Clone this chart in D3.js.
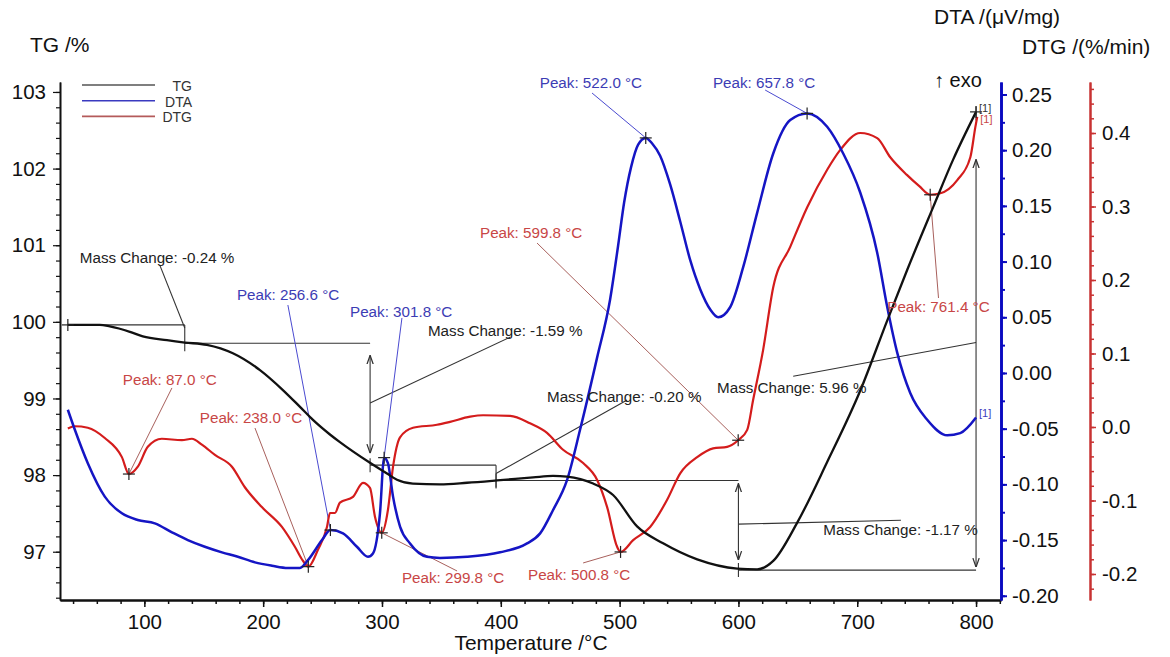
<!DOCTYPE html>
<html>
<head>
<meta charset="utf-8">
<script src="https://cdn.jsdelivr.net/npm/d3@7"></script>
<style>
  html, body { margin: 0; padding: 0; background: #fff; }
  svg { display: block; }
</style>
</head>
<body>
<svg id="chart" width="1170" height="657"></svg>
<script>
// ---------- tick labels ----------
const tempTicks = [100, 200, 300, 400, 500, 600, 700, 800];
const tgTicks = [97, 98, 99, 100, 101, 102, 103];
const dtaTicks = [-0.20, -0.15, -0.10, -0.05, 0.00, 0.05, 0.10, 0.15, 0.20, 0.25];
const dtgTicks = [-0.2, -0.1, 0.0, 0.1, 0.2, 0.3, 0.4];

// ---------- TG curve (%) ----------
const tgTemp = [35.6, 45.7, 62.5, 70.9, 87.8, 98.7, 119.0, 134.1, 152.6, 174.5, 197.3, 216.6, 231.0, 241.9,
  256.2, 264.6, 289.9, 304.2, 312.6, 326.0, 348.8, 371.6, 396.8, 427.2, 444.0, 455.8, 477.7, 494.5,
  514.7, 536.6, 565.3, 599.0, 615.8, 629.3, 649.5, 674.7, 702.5, 725.3, 742.1, 764.0, 780.8, 800.0];
const tgValue = [99.96, 99.96, 99.96, 99.94, 99.87, 99.81, 99.76, 99.73, 99.70, 99.59, 99.37, 99.11, 98.89, 98.72,
  98.53, 98.43, 98.16, 98.02, 97.94, 97.89, 97.88, 97.90, 97.93, 97.97, 97.99, 97.98, 97.89, 97.74,
  97.33, 97.11, 96.90, 96.78, 96.77, 96.88, 97.38, 98.17, 99.10, 100.02, 100.68, 101.50, 102.12, 102.74];

// ---------- DTA curve (µV/mg) ----------
const dtaTemp = [35.6, 41.5, 52.4, 66.7, 81.1, 94.4, 108.8, 123.2, 136.6, 150.9, 165.3, 178.7, 193.1, 207.4,
  220.8, 231.0, 237.7, 249.5, 256.6, 267.2, 278.9, 288.2, 292.4, 298.3, 301.8, 305.0, 309.3, 315.2, 323.6,
  337.9, 348.8, 371.6, 399.4, 422.1, 433.1, 444.0, 455.8, 466.7, 481.1, 492.0, 498.7, 503.8, 509.7, 515.6,
  522.0, 527.4, 534.1, 542.6, 551.0, 559.5, 567.9, 576.3, 583.0, 593.0, 604.0, 615.8, 629.3, 643.6, 657.8, 674.7,
  688.2, 702.5, 716.8, 725.3, 733.7, 744.6, 758.9, 775.8, 786.7, 800.0];
const dtaValue = [-0.033, -0.051, -0.081, -0.111, -0.126, -0.132, -0.135, -0.143, -0.150, -0.156, -0.161, -0.165, -0.170, -0.173,
  -0.175, -0.175, -0.168, -0.150, -0.141, -0.144, -0.156, -0.165, -0.162, -0.126, -0.076, -0.081, -0.111, -0.138, -0.153,
  -0.165, -0.166, -0.165, -0.161, -0.153, -0.144, -0.123, -0.096, -0.051, 0.014, 0.066, 0.114, 0.153, 0.185, 0.205,
  0.211, 0.206, 0.195, 0.169, 0.136, 0.101, 0.075, 0.057, 0.050, 0.059, 0.095, 0.144, 0.197, 0.227, 0.233, 0.221,
  0.197, 0.162, 0.108, 0.059, 0.018, -0.018, -0.042, -0.056, -0.054, -0.040];

// ---------- DTG curve (%/min) ----------
const dtgTemp = [35.6, 41.5, 52.4, 66.7, 81.1, 87.0, 94.5, 102.9, 114.7, 131.6, 140.0, 148.4, 159.4, 173.7,
  184.6, 198.9, 215.8, 226.7, 233.5, 238.0, 246.1, 253.7, 256.2, 260.4, 264.6, 275.6, 284.0, 289.9, 294.1,
  299.8, 305.0, 309.3, 315.2, 326.1, 346.3, 357.3, 374.2, 385.1, 407.8, 424.6, 438.9, 452.4, 469.3, 481.1,
  489.5, 497.9, 500.8, 511.4, 525.7, 540.0, 551.0, 565.3, 578.7, 590.5, 599.8, 607.4, 612.4, 620.8, 629.3,
  643.6, 657.9, 674.7, 685.7, 702.5, 716.8, 727.8, 741.8, 752.0, 761.4, 770.0, 784.2, 795.2, 799.4, 801.0];
const dtgValue = [-0.002, 0.001, -0.001, -0.015, -0.041, -0.064, -0.054, -0.027, -0.016, -0.018, -0.016, -0.024, -0.038, -0.054,
  -0.082, -0.109, -0.136, -0.163, -0.182, -0.190, -0.167, -0.136, -0.117, -0.117, -0.103, -0.095, -0.076, -0.083, -0.122,
  -0.144, -0.113, -0.054, -0.014, -0.001, 0.003, 0.007, 0.014, 0.016, 0.015, 0.005, -0.008, -0.031, -0.049, -0.072,
  -0.109, -0.163, -0.170, -0.154, -0.136, -0.099, -0.063, -0.041, -0.029, -0.027, -0.018, -0.004, 0.037, 0.105, 0.190,
  0.245, 0.299, 0.350, 0.377, 0.400, 0.393, 0.367, 0.343, 0.328, 0.316, 0.318, 0.336, 0.367, 0.408, 0.422];

// ---------- evaluated peaks ----------
const dtaPeakTemps = [256.6, 301.8, 522.0, 657.8];
const dtgPeakTemps = [87.0, 238.0, 299.8, 500.8, 599.8, 761.4];

// ---------- mass change steps (TG levels and step temperatures) ----------
const massLevels = [99.96, 99.72, 98.13, 97.93, 96.76, 102.72];
const massStepTemps = [35.6, 134, 290, 396, 600, 800];
const massChanges = [-0.24, -1.59, -0.20, -1.17, 5.96];

// ---------- annotation placement (temperature, axis value) ----------
const dtaPeakLabelAt = [[177.9, 0.0655], [273.1, 0.0503], [432.8, 0.2558], [578.5, 0.2558]];
const dtaPeakLeaderFrom = [[220.8, 0.061], [316.8, 0.0494], [476.8, 0.2513], [622.5, 0.254]];
const dtgPeakLabelAt = [[81.9, 0.0571], [146.7, 0.0054], [316.8, -0.2122], [422.9, -0.2082], [382.5, 0.2571], [725.3, 0.1565]];
const dtgPeakLeaderFrom = [[123.2, 0.0531], [193.1, -0.0014], [363.2, -0.1959], [469.3, -0.185], [430.5, 0.2503], [768.4, 0.1755]];
const massLabelAt = [[45.7, 100.767], [338.7, 99.813], [438.9, 98.951], [671.4, 97.215], [582.0, 99.069]];
const massLeader = [
  [[134, 99.92], [113, 100.74]],
  [[290, 98.94], [407.8, 99.80]],
  [[396, 98.02], [506.3, 98.98]],
  [[600, 97.36], [736.8, 97.41]],
  [[800, 99.73], [646.1, 99.29]]
];
const massConnector = ["bar", "arrow", "bar", "arrow", "arrow"];
const arrowGaps = [[0, 0], [12, 12], [0, 0], [10, 3], [3, 46]];

// ---------- drawing ----------
const FONT = "Arial, 'Liberation Sans', sans-serif";
const C_TG = "#111111", C_DTA = "#1515c4", C_DTG = "#d41c1c";
const C_DTA_TXT = "#3c3cb4", C_DTG_TXT = "#c84646";
const C_DTA_LEAD = "#4a4ad0", C_DTG_LEAD = "#a8605c";
const TICK_FONT = 20.5, TITLE_FONT = 21, NOTE_FONT = 15.2;

const svg = d3.select("#chart").attr("font-family", FONT);
svg.append("rect").attr("width", 1170).attr("height", 657).attr("fill", "#fff");

const plot = { left: 60, right: 1001, top: 82, bottom: 600 };
const x = d3.scaleLinear().domain([29, 821]).range([plot.left, plot.right]);
const yTG = d3.scaleLinear().domain([96.37, 103.13]).range([plot.bottom, plot.top]);
const yDTA = d3.scaleLinear().domain([-0.2038, 0.2612]).range([plot.bottom, plot.top]);
const yDTG = d3.scaleLinear().domain([-0.2354, 0.4694]).range([plot.bottom, plot.top]);

const zip = (a, b) => a.map((t, i) => [t, b[i]]);
const tgData = zip(tgTemp, tgValue);
const dtaData = zip(dtaTemp, dtaValue);
const dtgData = zip(dtgTemp, dtgValue);

function interp(ts, vs, t) {
  const i = d3.bisectLeft(ts, t);
  if (i <= 0) return vs[0];
  if (i >= ts.length) return vs[vs.length - 1];
  const t0 = ts[i - 1], t1 = ts[i];
  return vs[i - 1] + (vs[i] - vs[i - 1]) * (t - t0) / (t1 - t0);
}

const defs = svg.append("defs");
defs.append("marker")
  .attr("id", "arrowHead").attr("viewBox", "0 0 10 10")
  .attr("refX", 10).attr("refY", 5)
  .attr("markerWidth", 9).attr("markerHeight", 9)
  .attr("markerUnits", "userSpaceOnUse")
  .attr("orient", "auto-start-reverse")
  .append("path").attr("d", "M0,1.5 L10,5 L0,8.5")
  .attr("fill", "none").attr("stroke", "#333").attr("stroke-width", 1.4);

// ----- axes -----
function styleAxis(g, color, width, size) {
  g.select(".domain").attr("stroke", color).attr("stroke-width", width);
  g.selectAll(".tick line").attr("stroke", color).attr("stroke-width", Math.max(1, width * 0.75));
  g.selectAll("text").attr("fill", "#111").attr("font-size", size).attr("font-family", FONT);
}

// left TG axis
svg.append("g").attr("transform", `translate(${plot.left},0)`)
  .call(d3.axisLeft(yTG).tickValues(d3.range(96.4, 103.05, 0.2)).tickSize(4).tickFormat("").tickSizeOuter(0))
  .call(g => styleAxis(g, "#111", 1.6, TICK_FONT));
svg.append("g").attr("transform", `translate(${plot.left},0)`)
  .call(d3.axisLeft(yTG).tickValues(tgTicks).tickSize(7).tickPadding(7).tickFormat(d3.format("d")).tickSizeOuter(0))
  .call(g => styleAxis(g, "#111", 1.6, TICK_FONT));

// bottom temperature axis
svg.append("g").attr("transform", `translate(0,${plot.bottom})`)
  .call(d3.axisBottom(x).tickValues(d3.range(40, 821, 20)).tickSize(4).tickFormat("").tickSizeOuter(0))
  .call(g => styleAxis(g, "#111", 2, TICK_FONT));
svg.append("g").attr("transform", `translate(0,${plot.bottom})`)
  .call(d3.axisBottom(x).tickValues(tempTicks).tickSize(7).tickPadding(7).tickFormat(d3.format("d")).tickSizeOuter(0))
  .call(g => styleAxis(g, "#111", 2, TICK_FONT));

// right DTA axis
const fmt2 = d => (Math.abs(d) < 1e-9 ? 0 : d).toFixed(2);
const fmt1 = d => (Math.abs(d) < 1e-9 ? 0 : d).toFixed(1);
svg.append("g").attr("transform", `translate(${plot.right},0)`)
  .call(d3.axisRight(yDTA).tickValues(d3.range(-0.2, 0.2601, 0.025)).tickSize(4).tickFormat("").tickSizeOuter(0))
  .call(g => styleAxis(g, "#0a0ac0", 2.6, TICK_FONT));
svg.append("g").attr("transform", `translate(${plot.right},0)`)
  .call(d3.axisRight(yDTA).tickValues(dtaTicks).tickSize(6).tickPadding(5).tickFormat(fmt2).tickSizeOuter(0))
  .call(g => styleAxis(g, "#0a0ac0", 2.6, TICK_FONT));

// right DTG axis
const dtgAxisX = 1090;
svg.append("g").attr("transform", `translate(${dtgAxisX},0)`)
  .call(d3.axisRight(yDTG).tickValues(d3.range(-0.22, 0.461, 0.02)).tickSize(4).tickFormat("").tickSizeOuter(0))
  .call(g => styleAxis(g, "#c83232", 2, TICK_FONT));
svg.append("g").attr("transform", `translate(${dtgAxisX},0)`)
  .call(d3.axisRight(yDTG).tickValues(dtgTicks).tickSize(6).tickPadding(6).tickFormat(fmt1).tickSizeOuter(0))
  .call(g => styleAxis(g, "#c83232", 2, TICK_FONT));

// axis titles
svg.append("text").attr("x", 30).attr("y", 52).attr("font-size", TITLE_FONT).attr("fill", "#111").text("TG /%");
svg.append("text").attr("x", 934).attr("y", 24).attr("font-size", TITLE_FONT).attr("fill", "#111").text("DTA /(μV/mg)");
svg.append("text").attr("x", 1022).attr("y", 54).attr("font-size", TITLE_FONT).attr("fill", "#111").text("DTG /(%/min)");
svg.append("text").attr("x", 934).attr("y", 87).attr("font-size", 20).attr("fill", "#111").text("↑ exo");
svg.append("text").attr("x", 531).attr("y", 650).attr("text-anchor", "middle").attr("font-size", TITLE_FONT)
  .attr("fill", "#111").text("Temperature /°C");

// ----- legend -----
const legendItems = [["TG", "#555"], ["DTA", "#3a3ac0"], ["DTG", "#b45a5a"]];
const lg = svg.append("g");
legendItems.forEach(([name, col], i) => {
  const yy = 85 + i * 15.7;
  lg.append("line").attr("x1", 82).attr("x2", 155).attr("y1", yy).attr("y2", yy)
    .attr("stroke", col).attr("stroke-width", 1.6);
  lg.append("text").attr("x", 192).attr("y", yy + 6).attr("text-anchor", "end")
    .attr("font-size", 14).attr("fill", "#333").text(name);
});

// ----- mass change construction lines -----
const ann = svg.append("g").attr("stroke", "#333").attr("stroke-width", 1.1).attr("fill", "none");
massLevels.forEach((lv, i) => {
  if (i >= massStepTemps.length - 1) return;
  ann.append("line")
    .attr("x1", x(massStepTemps[i])).attr("x2", x(massStepTemps[i + 1]))
    .attr("y1", yTG(lv)).attr("y2", yTG(lv));
});
massChanges.forEach((mc, i) => {
  const t = massStepTemps[i + 1];
  const yHi = yTG(Math.max(massLevels[i], massLevels[i + 1]));
  const yLo = yTG(Math.min(massLevels[i], massLevels[i + 1]));
  const yEnd = yTG(massLevels[i + 1]);
  if (massConnector[i] === "bar") {
    ann.append("line").attr("x1", x(t)).attr("x2", x(t)).attr("y1", yHi).attr("y2", yLo + 8);
  } else {
    const g = arrowGaps[i];
    ann.append("line").attr("x1", x(t)).attr("x2", x(t))
      .attr("y1", yHi + g[1]).attr("y2", yLo - g[0])
      .attr("marker-start", "url(#arrowHead)").attr("marker-end", "url(#arrowHead)");
    // short tick where the step meets the lower level
    ann.append("line").attr("x1", x(t)).attr("x2", x(t)).attr("y1", yEnd - 7).attr("y2", yEnd + 7);
  }
  const [from, to] = massLeader[i];
  ann.append("line").attr("x1", x(from[0])).attr("y1", yTG(from[1]))
    .attr("x2", x(to[0])).attr("y2", yTG(to[1]));
  if (massConnector[i] === "bar" && i === 2) {
    ann.append("line").attr("x1", x(t)).attr("x2", x(t)).attr("y1", yEnd - 7).attr("y2", yEnd + 7);
  }
});

// ----- peak leader lines -----
const leads = svg.append("g").attr("stroke-width", 1).attr("fill", "none");
dtaPeakTemps.forEach((t, i) => {
  const v = interp(dtaTemp, dtaValue, t);
  const f = dtaPeakLeaderFrom[i];
  leads.append("line").attr("stroke", C_DTA_LEAD)
    .attr("x1", x(f[0])).attr("y1", yDTA(f[1])).attr("x2", x(t)).attr("y2", yDTA(v));
});
dtgPeakTemps.forEach((t, i) => {
  const v = interp(dtgTemp, dtgValue, t);
  const f = dtgPeakLeaderFrom[i];
  leads.append("line").attr("stroke", C_DTG_LEAD)
    .attr("x1", x(f[0])).attr("y1", yDTG(f[1])).attr("x2", x(t)).attr("y2", yDTG(v));
});

// ----- curves -----
const curveOf = (yS) => d3.line().x(d => x(d[0])).y(d => yS(d[1])).curve(d3.curveMonotoneX);
svg.append("path").datum(dtgData).attr("d", curveOf(yDTG))
  .attr("fill", "none").attr("stroke", C_DTG).attr("stroke-width", 2.2).attr("stroke-linejoin", "round");
svg.append("path").datum(dtaData).attr("d", curveOf(yDTA))
  .attr("fill", "none").attr("stroke", C_DTA).attr("stroke-width", 2.5).attr("stroke-linejoin", "round");
svg.append("path").datum(tgData).attr("d", curveOf(yTG))
  .attr("fill", "none").attr("stroke", C_TG).attr("stroke-width", 2.3).attr("stroke-linejoin", "round");

// ----- cross markers -----
const marks = svg.append("g").attr("stroke", "#222").attr("stroke-width", 1.2);
function cross(px, py, s) {
  marks.append("line").attr("x1", px - s).attr("x2", px + s).attr("y1", py).attr("y2", py);
  marks.append("line").attr("x1", px).attr("x2", px).attr("y1", py - s).attr("y2", py + s);
}
dtaPeakTemps.forEach(t => cross(x(t), yDTA(interp(dtaTemp, dtaValue, t)), 6));
dtgPeakTemps.forEach(t => cross(x(t), yDTG(interp(dtgTemp, dtgValue, t)), 6));
cross(x(tgTemp[0]), yTG(tgValue[0]), 6);
cross(x(tgTemp[tgTemp.length - 1]), yTG(tgValue[tgValue.length - 1]), 6);

// ----- texts -----
const txt = svg.append("g").attr("font-size", NOTE_FONT);
dtaPeakTemps.forEach((t, i) => {
  const p = dtaPeakLabelAt[i];
  txt.append("text").attr("x", x(p[0])).attr("y", yDTA(p[1])).attr("fill", C_DTA_TXT)
    .text(`Peak: ${t.toFixed(1)} °C`);
});
dtgPeakTemps.forEach((t, i) => {
  const p = dtgPeakLabelAt[i];
  txt.append("text").attr("x", x(p[0])).attr("y", yDTG(p[1])).attr("fill", C_DTG_TXT)
    .text(`Peak: ${t.toFixed(1)} °C`);
});
massChanges.forEach((mc, i) => {
  const p = massLabelAt[i];
  txt.append("text").attr("x", x(p[0])).attr("y", yTG(p[1])).attr("fill", "#222")
    .text(`Mass Change: ${mc.toFixed(2)} %`);
});

// curve end tags
const endTag = (t, py, col, dy) => svg.append("text").attr("x", x(t) + 3).attr("y", py + dy)
  .attr("font-size", 11).attr("fill", col).text("[1]");
endTag(tgTemp[tgTemp.length - 1], yTG(tgValue[tgValue.length - 1]), "#333", 0);
endTag(dtgTemp[dtgTemp.length - 1], yDTG(dtgValue[dtgValue.length - 1]), "#c84646", 6);
endTag(dtaTemp[dtaTemp.length - 1], yDTA(dtaValue[dtaValue.length - 1]), "#3c3cc0", -1);
</script>
</body>
</html>
